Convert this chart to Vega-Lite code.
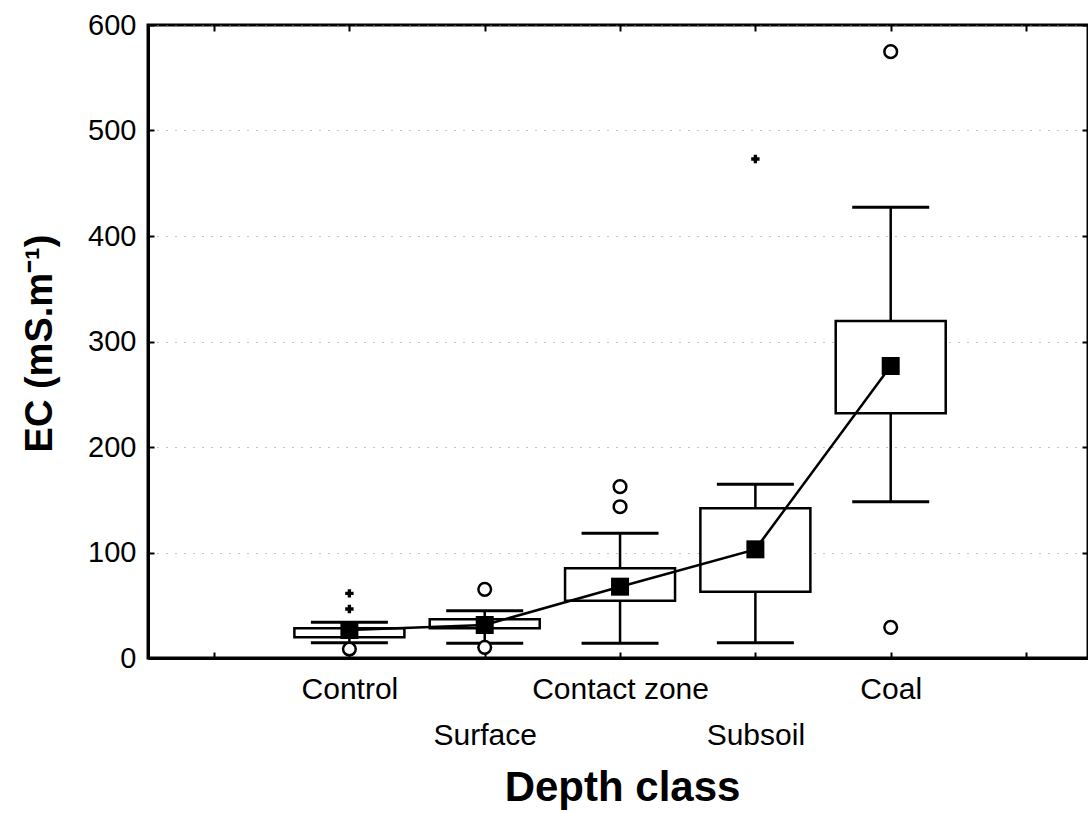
{
  "$schema": "https://vega.github.io/schema/vega-lite/v6.json",
  "autosize": {"type": "none"},
  "padding": {"left": 148, "top": 25, "right": 0, "bottom": 155},
  "width": 940,
  "height": 633,
  "background": "white",
  "config": {
    "view": {"stroke": "black", "strokeWidth": 3},
    "font": "Liberation Sans",
    "axis": {
      "domainColor": "black",
      "domainWidth": 3,
      "tickColor": "black",
      "tickWidth": 2,
      "labelColor": "black",
      "titleColor": "black",
      "labelFont": "Liberation Sans",
      "titleFont": "Liberation Sans"
    }
  },
  "datasets": {
    "boxes": [
      {"cls": "Control", "lo": 14.5, "q1": 19.6, "mid": 26.5, "q3": 28.2, "hi": 33.8},
      {"cls": "Surface", "lo": 13.9, "q1": 28.2, "mid": 31.3, "q3": 36.7, "hi": 44.8},
      {"cls": "Contact zone", "lo": 13.9, "q1": 54.3, "mid": 67.6, "q3": 85.0, "hi": 118.2},
      {"cls": "Subsoil", "lo": 14.5, "q1": 62.8, "mid": 103.0, "q3": 141.9, "hi": 164.6},
      {"cls": "Coal", "lo": 148.2, "q1": 231.9, "mid": 276.8, "q3": 319.4, "hi": 427.2}
    ],
    "outliers": [
      {"cls": "Control", "v": 8.5},
      {"cls": "Surface", "v": 65.1},
      {"cls": "Surface", "v": 10.1},
      {"cls": "Contact zone", "v": 162.4},
      {"cls": "Contact zone", "v": 143.4},
      {"cls": "Coal", "v": 574.7},
      {"cls": "Coal", "v": 29.1}
    ],
    "extremes": [
      {"cls": "Control", "v": 61.3},
      {"cls": "Control", "v": 46.4},
      {"cls": "Subsoil", "v": 473.0}
    ]
  },
  "resolve": {"axis": {"x": "independent", "y": "independent"}},
  "layer": [
    {
      "data": {"name": "boxes"},
      "mark": {"type": "rule", "color": "black", "strokeWidth": 2.5},
      "encoding": {
        "x": {
          "field": "cls", "type": "nominal",
          "scale": {"type": "point", "domain": ["_a", "Control", "Surface", "Contact zone", "Subsoil", "Coal", "_b"], "padding": 0.473, "align": 0.516},
          "axis": {
            "orient": "bottom",
            "title": "Depth class",
            "titleFontSize": 42,
            "titleFontWeight": "bold",
            "titleX": 474,
            "titleY": 142,
            "titleAlign": "center",
            "titleBaseline": "alphabetic",
            "labelFontSize": 30,
            "labelAngle": 0,
            "labelBaseline": "alphabetic",
            "labelLineHeight": 46,
            "labelPadding": 46,
            "labelOverlap": false,
            "labelBound": false,
            "labelFlush": false,
            "labelExpr": "datum.value == 'Surface' || datum.value == 'Subsoil' ? ['', datum.value] : (datum.value == '_a' || datum.value == '_b' ? '' : datum.value)",
            "tickSize": -6,
            "domainWidth": 3
          }
        },
        "y": {
          "field": "lo", "type": "quantitative",
          "scale": {"domain": [0, 600], "nice": false, "zero": true},
          "axis": {
            "orient": "left",
            "values": [0, 100, 200, 300, 400, 500, 600],
            "title": "EC (mS.m⁻¹)",
            "titleFontSize": 38,
            "titleFontWeight": "bold",
            "titleX": -97,
            "titleY": 318,
            "titleAlign": "center",
            "titleBaseline": "alphabetic",
            "labelFontSize": 29,
            "labelPadding": 18,
            "labelFlush": false,
            "tickSize": -6,
            "grid": true,
            "gridColor": "#888888",
            "gridWidth": 1,
            "gridDash": [1, 8]
          }
        },
        "y2": {"field": "hi"}
      }
    },
    {
      "data": {"name": "boxes"},
      "mark": {"type": "bar", "fill": "white", "stroke": "black", "strokeWidth": 2.5, "size": 110},
      "encoding": {
        "x": {
          "field": "cls", "type": "nominal",
          "axis": {"orient": "top", "labels": false, "title": null, "domain": false, "tickSize": -6, "grid": false}
        },
        "y": {
          "field": "q1", "type": "quantitative",
          "axis": {"orient": "right", "labels": false, "title": null, "domain": false, "tickSize": -6, "grid": false, "values": [0, 100, 200, 300, 400, 500, 600]}
        },
        "y2": {"field": "q3"}
      }
    },
    {
      "data": {"name": "boxes"},
      "mark": {"type": "tick", "color": "black", "opacity": 1, "thickness": 3, "size": 77},
      "encoding": {
        "x": {"field": "cls", "type": "nominal", "axis": null},
        "y": {"field": "lo", "type": "quantitative", "axis": null}
      }
    },
    {
      "data": {"name": "boxes"},
      "mark": {"type": "tick", "color": "black", "opacity": 1, "thickness": 3, "size": 77},
      "encoding": {
        "x": {"field": "cls", "type": "nominal", "axis": null},
        "y": {"field": "hi", "type": "quantitative", "axis": null}
      }
    },
    {
      "data": {"name": "boxes"},
      "mark": {"type": "line", "color": "black", "strokeWidth": 2.5},
      "encoding": {
        "x": {"field": "cls", "type": "nominal", "axis": null, "sort": null},
        "y": {"field": "mid", "type": "quantitative", "axis": null}
      }
    },
    {
      "data": {"name": "boxes"},
      "mark": {"type": "point", "shape": "square", "filled": true, "color": "black", "size": 324, "opacity": 1},
      "encoding": {
        "x": {"field": "cls", "type": "nominal", "axis": null},
        "y": {"field": "mid", "type": "quantitative", "axis": null}
      }
    },
    {
      "data": {"name": "outliers"},
      "mark": {"type": "point", "shape": "circle", "filled": false, "fill": "white", "fillOpacity": 1, "stroke": "black", "strokeWidth": 2.5, "size": 160, "opacity": 1},
      "encoding": {
        "x": {"field": "cls", "type": "nominal", "axis": null},
        "y": {"field": "v", "type": "quantitative", "axis": null}
      }
    },
    {
      "data": {"name": "extremes"},
      "mark": {"type": "point", "shape": "cross", "filled": true, "color": "black", "size": 70, "opacity": 1},
      "encoding": {
        "x": {"field": "cls", "type": "nominal", "axis": null},
        "y": {"field": "v", "type": "quantitative", "axis": null}
      }
    }
  ]
}
